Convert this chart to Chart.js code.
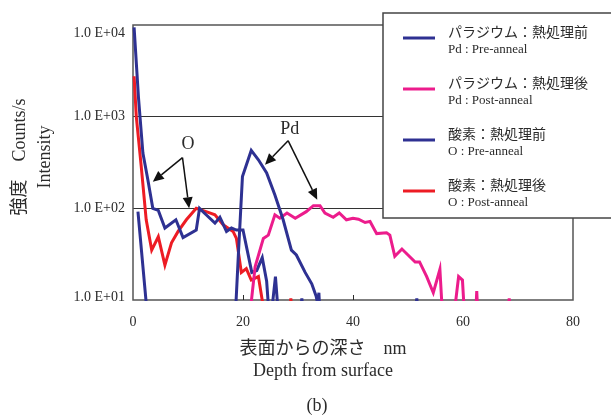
<!DOCTYPE html>
<html>
<head>
<meta charset="utf-8">
<script src="https://cdn.jsdelivr.net/npm/chart.js@4/dist/chart.umd.min.js"></script>
<style>
  html, body { margin: 0; padding: 0; background: #fff; overflow: hidden; }
  #wrap { width: 611px; height: 416px; position: relative; }
</style>
</head>
<body>
<div id="wrap"><canvas id="depthChart"></canvas></div>
<script>
// Profils en profondeur (nm) -> intensité (counts/s), lus sur la figure
// les valeurs < 10 sont sous l'axe (coupées par la zone du graphique)
const pdPreDepth  = [0.9, 2.5, 18.5, 19.2, 19.9, 20.5, 21.5, 22.8, 24.3, 25.8, 27.3, 28.8, 29.7, 31.3, 32.5, 33.3, 33.6, 33.8, 34.1];
const pdPreCounts = [92, 8, 5, 35, 222, 284, 428, 339, 243, 140, 75, 35, 31, 20, 15, 11, 9, 12, 5];

const pdPostDepth  = [21.0, 22.2, 23.7, 24.6, 25.8, 26.7, 28.0, 29.5, 31.5, 32.8, 34.0, 34.9, 36.4, 37.5, 38.8, 40.0, 41.0, 42.2, 43.1, 44.3, 46.1, 46.7, 47.6, 48.9, 50.0, 51.3, 52.1, 53.4, 54.6, 55.8, 56.4, 58.1, 59.2, 59.9, 60.4, 62.2, 62.5, 62.8, 68.0, 68.4, 68.8];
const pdPostCounts = [5, 23, 47, 51, 85, 78, 89, 78, 92, 107, 107, 89, 80, 89, 75, 78, 76, 70, 72, 53, 54, 51, 30, 36, 31, 26, 26, 18, 12, 21.6, 5, 5, 18, 16.5, 5, 5, 12.5, 5, 5, 10.4, 5];

const oPreDepth  = [0.2, 1.0, 1.8, 2.7, 3.6, 4.6, 5.8, 7.8, 9.1, 11.5, 12.1, 13.3, 14.9, 15.8, 17.0, 17.9, 18.8, 20.0, 21.6, 22.5, 23.5, 24.3, 24.9, 25.9, 26.6, 30.2, 30.7, 31.2, 51.1, 51.6, 52.1];
const oPreCounts = [9400, 1600, 400, 205, 100, 95, 61, 75, 48, 58, 100, 85, 69, 80, 56, 61, 58, 58, 20, 21, 29, 16, 5, 18, 5, 5, 10.4, 5, 5, 10.4, 5];

const oPostDepth  = [0.2, 0.6, 1.5, 2.4, 3.4, 4.6, 5.8, 7.0, 8.2, 9.7, 11.5, 13.3, 14.9, 16.4, 18.2, 18.8, 19.7, 20.6, 21.5, 22.8, 24.3, 28.3, 28.7, 29.1];
const oPostCounts = [2760, 1000, 285, 75, 35, 49, 24, 42, 56, 75, 100, 92, 85, 66, 56, 47, 20, 22, 16.5, 18, 5, 5, 10.4, 5];

const depthTicks = [0, 20, 40, 60, 80];
const countTicks = [10, 100, 1000, 10000];

const seriesNames = [
    ['パラジウム：熱処理前', 'Pd : Pre-anneal'],
    ['パラジウム：熱処理後', 'Pd : Post-anneal'],
    ['酸素：熱処理前', 'O : Pre-anneal'],
    ['酸素：熱処理後', 'O : Post-anneal']
];

// annotations (flèches) en coordonnées de données : [profondeur, counts]
const oLabel = [10, 494];
const oArrows = [[[9.0, 357], [3.6, 195]], [[9.0, 357], [10.2, 100]]];
const pdLabel = [28.5, 720];
const pdArrows = [[[28.2, 547], [24.0, 299]], [[28.2, 547], [33.5, 124]]];

const NAVY = '#2e3192';
const PINK = '#ec1c8c';
const RED = '#ed1c24';
const INK = '#2b2b2b';
const SERIF = '"Liberation Serif", "Noto Sans CJK JP", serif';

function toPoints(depth, counts) {
    return depth.map((d, i) => ({ x: d, y: counts[i] }));
}

function makeDataset(label, depth, counts, color) {
    return {
        label: label,
        data: toPoints(depth, counts),
        borderColor: color,
        backgroundColor: color,
        borderWidth: 3,
        pointRadius: 0,
        tension: 0,
        fill: false,
        clip: 1
    };
}

function countLabel(v) {
    return '1.0 E+' + String(Math.round(Math.log10(v))).padStart(2, '0');
}

// cadre, graduations vers l'intérieur et étiquettes de l'axe y
const framePlugin = {
    id: 'frame',
    beforeDatasetsDraw(chart) {
        const { ctx, chartArea: a, scales } = chart;
        ctx.save();
        ctx.strokeStyle = '#555';
        ctx.lineWidth = 1.5;
        ctx.strokeRect(a.left, a.top, a.right - a.left, a.bottom - a.top);
        ctx.lineWidth = 1;
        ctx.strokeStyle = INK;
        depthTicks.slice(1, -1).forEach(v => {
            const x = Math.round(scales.x.getPixelForValue(v)) + 0.5;
            ctx.beginPath();
            ctx.moveTo(x, a.bottom);
            ctx.lineTo(x, a.bottom - 5);
            ctx.stroke();
        });
        ctx.fillStyle = INK;
        ctx.font = '14px ' + SERIF;
        ctx.textAlign = 'right';
        ctx.textBaseline = 'middle';
        countTicks.forEach(v => {
            const y = Math.min(Math.max(scales.y.getPixelForValue(v), a.top + 8), a.bottom - 3);
            ctx.fillText(countLabel(v), a.left - 8, y);
        });
        ctx.restore();
    }
};

function arrow(ctx, x1, y1, x2, y2) {
    const ang = Math.atan2(y2 - y1, x2 - x1);
    const len = 11, half = 5;
    const bx = x2 - len * Math.cos(ang), by = y2 - len * Math.sin(ang);
    ctx.beginPath();
    ctx.moveTo(x1, y1);
    ctx.lineTo(bx, by);
    ctx.stroke();
    ctx.beginPath();
    ctx.moveTo(x2, y2);
    ctx.lineTo(bx + half * Math.sin(ang), by - half * Math.cos(ang));
    ctx.lineTo(bx - half * Math.sin(ang), by + half * Math.cos(ang));
    ctx.closePath();
    ctx.fill();
}

const decorPlugin = {
    id: 'decor',
    afterDraw(chart) {
        const { ctx, scales } = chart;
        const px = p => [scales.x.getPixelForValue(p[0]), scales.y.getPixelForValue(p[1])];
        ctx.save();

        // flèches O et Pd
        ctx.strokeStyle = '#111';
        ctx.fillStyle = '#111';
        ctx.lineWidth = 1.5;
        [...oArrows, ...pdArrows].forEach(([from, to]) => {
            const a = px(from), b = px(to);
            arrow(ctx, a[0], a[1], b[0], b[1]);
        });
        ctx.fillStyle = INK;
        ctx.font = '18px ' + SERIF;
        ctx.textAlign = 'center';
        ctx.textBaseline = 'middle';
        let p = px(oLabel);
        ctx.fillText('O', p[0], p[1]);
        p = px(pdLabel);
        ctx.fillText('Pd', p[0], p[1]);

        // titres des axes
        ctx.font = '18px ' + SERIF;
        ctx.fillText('表面からの深さ　nm', 323, 349);
        ctx.fillText('Depth from surface', 323, 371);
        ctx.fillText('(b)', 317, 406);

        ctx.save();
        ctx.translate(20, 157);
        ctx.rotate(-Math.PI / 2);
        ctx.fillText('強度　Counts/s', 0, 0);
        ctx.restore();
        ctx.save();
        ctx.translate(45, 157);
        ctx.rotate(-Math.PI / 2);
        ctx.fillText('Intensity', 0, 0);
        ctx.restore();

        // légende (déborde à droite comme l'original)
        const lx = 383, ly = 13;
        ctx.fillStyle = '#fff';
        ctx.fillRect(lx, ly, 270, 205);
        ctx.strokeStyle = '#444';
        ctx.lineWidth = 1.5;
        ctx.strokeRect(lx, ly, 270, 205);
        ctx.textAlign = 'left';
        chart.data.datasets.forEach((ds, i) => {
            const y = 38 + i * 51;
            ctx.strokeStyle = ds.borderColor;
            ctx.lineWidth = 3;
            ctx.beginPath();
            ctx.moveTo(403, y);
            ctx.lineTo(435, y);
            ctx.stroke();
            ctx.fillStyle = INK;
            ctx.font = '14px "Noto Sans CJK JP", sans-serif';
            ctx.fillText(seriesNames[i][0], 448, y - 6);
            ctx.font = '13px ' + SERIF;
            ctx.fillText(seriesNames[i][1], 448, y + 12);
        });
        ctx.restore();
    }
};

function initializeChart() {
    const ctx = document.getElementById('depthChart').getContext('2d');

    const config = {
        type: 'line',
        data: {
            datasets: [
                makeDataset(seriesNames[0][1], pdPreDepth, pdPreCounts, NAVY),
                makeDataset(seriesNames[1][1], pdPostDepth, pdPostCounts, PINK),
                makeDataset(seriesNames[2][1], oPreDepth, oPreCounts, NAVY),
                makeDataset(seriesNames[3][1], oPostDepth, oPostCounts, RED)
            ]
        },
        options: {
            responsive: true,
            maintainAspectRatio: false,
            animation: false,
            layout: {
                padding: { top: 25, right: 38, left: 0, bottom: 0 }
            },
            plugins: {
                legend: { display: false },
                tooltip: { enabled: false }
            },
            scales: {
                x: {
                    type: 'linear',
                    min: 0,
                    max: 80,
                    afterBuildTicks: s => { s.ticks = depthTicks.map(v => ({ value: v })); },
                    afterFit: s => { s.height = 116; },
                    ticks: {
                        color: INK,
                        padding: 6,
                        maxRotation: 0,
                        font: { family: SERIF, size: 14 }
                    },
                    grid: { display: false },
                    border: { display: false }
                },
                y: {
                    type: 'logarithmic',
                    min: 10,
                    max: 10000,
                    afterBuildTicks: s => { s.ticks = countTicks.map(v => ({ value: v })); },
                    afterFit: s => { s.width = 133; },
                    ticks: { display: false },
                    grid: {
                        drawTicks: false,
                        color: '#333',
                        lineWidth: c => (c.tick && (c.tick.value === 100 || c.tick.value === 1000)) ? 1 : 0
                    },
                    border: { display: false }
                }
            }
        },
        plugins: [framePlugin, decorPlugin]
    };

    return new Chart(ctx, config);
}

initializeChart();
</script>
</body>
</html>
